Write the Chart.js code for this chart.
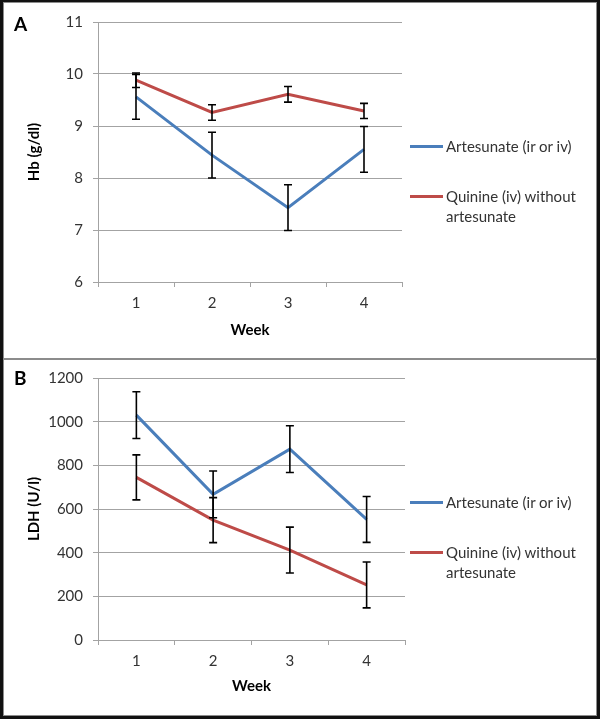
<!DOCTYPE html>
<html>
<head>
<meta charset="utf-8">
<script src="https://cdn.jsdelivr.net/npm/chart.js@4/dist/chart.umd.min.js"></script>
<style>
    body { margin: 0; background: #fff; font-family: Lato, "Open Sans", sans-serif; }
    #page { position: relative; width: 600px; height: 719px; overflow: hidden; }
    canvas { position: absolute; left: 0; }
    #frame { position: absolute; left: 0; top: 0; width: 600px; height: 719px; box-sizing: border-box;
             border: 3px solid #111; border-top-width: 2px; pointer-events: none; }
    #frame .inner { position: absolute; inset: 0; border: 1px solid #8c8c8c; }
    #sep { position: absolute; left: 3px; right: 3px; top: 358px; height: 2px; background: #8c8c8c; }
    .tag { position: absolute; left: 14px; font-weight: bold; font-size: 19px; color: #000; }
    .legend { position: absolute; font-size: 15px; color: #333; line-height: 20px; }
    .legend .swatch { position: absolute; left: 0; width: 33px; height: 3px; }
    .legend .text { position: absolute; left: 36px; width: 150px; }
</style>
</head>
<body>
<div id="page">
    <canvas id="chartHb" style="top:0px" width="420" height="359"></canvas>
    <canvas id="chartLdh" style="top:359px" width="420" height="356"></canvas>
    <div class="tag" style="top:12px">A</div>
    <div class="tag" style="top:366px">B</div>
    <div id="legendHb"></div>
    <div id="legendLdh"></div>
    <div id="sep"></div>
    <div id="frame"><div class="inner"></div></div>
</div>
<script>
const weeks = ['1', '2', '3', '4'];

// Hb (g/dl)
const hbArtesunate = [9.56, 8.44, 7.43, 8.55];
const hbArtesunateErr = [0.43, 0.44, 0.44, 0.44];
const hbQuinine = [9.88, 9.26, 9.61, 9.29];
const hbQuinineErr = [0.14, 0.15, 0.15, 0.145];

// LDH (U/l)
const ldhArtesunate = [1030, 667, 874, 552];
const ldhArtesunateErr = [107, 107, 107, 105];
const ldhQuinine = [745, 549, 412, 252];
const ldhQuinineErr = [103, 103, 105, 105];

const hbTicks = [6, 7, 8, 9, 10, 11];
const ldhTicks = [0, 200, 400, 600, 800, 1000, 1200];

const nameArtesunate = 'Artesunate (ir or iv)';
const nameQuinine = 'Quinine (iv) without artesunate';
const blue = '#4a7ebb';
const red = '#be4b48';
const gridColor = '#a3a3a3';
const textColor = '#333333';

// draws the black error bars on top of the lines
const errorBars = {
    id: 'errorBars',
    afterDatasetsDraw(chart) {
        const ctx = chart.ctx;
        const y = chart.scales.y;
        ctx.save();
        ctx.strokeStyle = '#000';
        ctx.lineWidth = 1.6;
        chart.data.datasets.forEach((ds, i) => {
            const meta = chart.getDatasetMeta(i);
            meta.data.forEach((pt, j) => {
                const v = ds.data[j];
                const e = ds.errors[j];
                const top = y.getPixelForValue(v + e);
                const bottom = y.getPixelForValue(v - e);
                ctx.beginPath();
                ctx.moveTo(pt.x, top);
                ctx.lineTo(pt.x, bottom);
                ctx.moveTo(pt.x - 4, top);
                ctx.lineTo(pt.x + 4, top);
                ctx.moveTo(pt.x - 4, bottom);
                ctx.lineTo(pt.x + 4, bottom);
                ctx.stroke();
            });
        });
        ctx.restore();
    }
};

function makeConfig(a, aErr, q, qErr, ticks, yTitle, pad, xHeight) {
    return {
        type: 'line',
        data: {
            labels: weeks,
            datasets: [{
                label: nameArtesunate,
                data: a,
                errors: aErr,
                borderColor: blue,
                backgroundColor: blue,
                borderWidth: 3,
                pointRadius: 0,
                tension: 0
            }, {
                label: nameQuinine,
                data: q,
                errors: qErr,
                borderColor: red,
                backgroundColor: red,
                borderWidth: 3,
                pointRadius: 0,
                tension: 0
            }]
        },
        options: {
            responsive: false,
            animation: false,
            layout: {
                padding: pad
            },
            plugins: {
                legend: { display: false },
                tooltip: { enabled: false }
            },
            scales: {
                x: {
                    offset: true,
                    grid: {
                        offset: true,
                        drawOnChartArea: false,
                        drawTicks: true,
                        tickLength: 5,
                        color: gridColor
                    },
                    border: { color: gridColor },
                    ticks: {
                        color: textColor,
                        padding: 7,
                        font: { family: 'Lato', size: 15 }
                    },
                    title: {
                        display: true,
                        text: 'Week',
                        color: '#000',
                        padding: { top: 0, bottom: 20 },
                        font: { family: 'Lato', size: 15, weight: 'bold' }
                    },
                    afterFit: function (s) { s.height = xHeight; }
                },
                y: {
                    min: ticks[0],
                    max: ticks[ticks.length - 1],
                    afterBuildTicks: function (s) { s.ticks = ticks.map(v => ({ value: v })); },
                    grid: {
                        color: gridColor,
                        tickLength: 5
                    },
                    border: { color: gridColor },
                    ticks: {
                        color: textColor,
                        padding: 10,
                        font: { family: 'Lato', size: 15 },
                        callback: function (v) { return String(v); }
                    },
                    title: {
                        display: true,
                        text: yTitle,
                        color: '#000',
                        padding: { top: 25, bottom: 0 },
                        font: { family: 'Lato', size: 15, weight: 'bold' }
                    },
                    afterFit: function (s) { s.width = 98; }
                }
            }
        },
        plugins: [errorBars]
    };
}

function buildLegend(id, left, rows) {
    const box = document.getElementById(id);
    box.className = 'legend';
    box.style.left = left + 'px';
    box.style.top = '0px';
    rows.forEach(r => {
        const sw = document.createElement('div');
        sw.className = 'swatch';
        sw.style.background = r.color;
        sw.style.top = (r.y - 1) + 'px';
        const tx = document.createElement('div');
        tx.className = 'text';
        tx.style.top = (r.y - 10) + 'px';
        tx.textContent = r.name;
        box.appendChild(sw);
        box.appendChild(tx);
    });
}

var chartHb = new Chart(
    document.getElementById('chartHb'),
    makeConfig(hbArtesunate, hbArtesunateErr, hbQuinine, hbQuinineErr, hbTicks, 'Hb (g/dl)',
        { top: 22, left: 0, right: 18, bottom: 0 }, 77)
);

var chartLdh = new Chart(
    document.getElementById('chartLdh'),
    makeConfig(ldhArtesunate, ldhArtesunateErr, ldhQuinine, ldhQuinineErr, ldhTicks, 'LDH (U/l)',
        { top: 19, left: 0, right: 15, bottom: 0 }, 75)
);

buildLegend('legendHb', 410, [
    { name: nameArtesunate, color: blue, y: 146 },
    { name: nameQuinine, color: red, y: 196 }
]);
buildLegend('legendLdh', 410, [
    { name: nameArtesunate, color: blue, y: 502 },
    { name: nameQuinine, color: red, y: 552 }
]);
</script>
</body>
</html>
